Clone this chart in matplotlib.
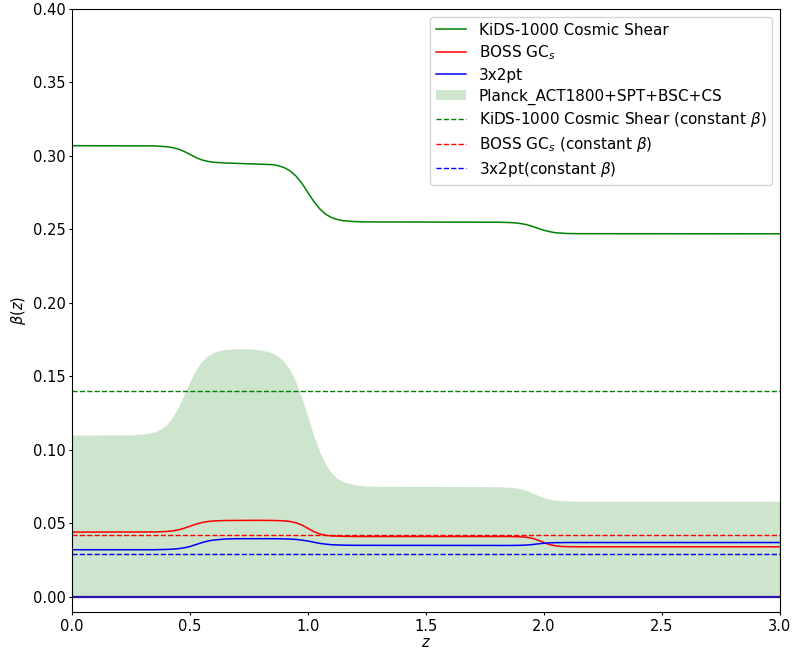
import matplotlib
matplotlib.use("Agg")
import matplotlib.pyplot as plt

# KiDS-1000 cosmic shear beta(z)
z_kids = [0.0, 0.35, 0.4, 0.425, 0.45, 0.475, 0.5, 0.525, 0.55, 0.575, 0.6, 0.65,
          0.85, 0.875, 0.9, 0.925, 0.95, 0.975, 1.0, 1.025, 1.05, 1.075, 1.1, 1.125,
          1.15, 1.2, 1.25, 1.8, 1.85, 1.875, 1.9, 1.925, 1.95, 1.975, 2.0, 2.025,
          2.05, 2.1, 2.15, 3.0]
beta_kids = [0.307, 0.3068, 0.3063, 0.3057, 0.3047, 0.3031, 0.301, 0.2989, 0.2973,
             0.2963, 0.2957, 0.2952, 0.2941, 0.2933, 0.2920, 0.2897, 0.2861, 0.2811,
             0.275, 0.2689, 0.2639, 0.2603, 0.2580, 0.2567, 0.2559, 0.2553, 0.2551,
             0.2549, 0.2547, 0.2545, 0.2540, 0.2533, 0.2521, 0.2507, 0.2494, 0.2484,
             0.2477, 0.2472, 0.2471, 0.247]

# BOSS GC_s beta(z)
z_boss = [0.0, 0.35, 0.4, 0.425, 0.45, 0.475, 0.5, 0.525, 0.55, 0.575, 0.6, 0.65,
          0.8, 0.85, 0.875, 0.9, 0.925, 0.95, 0.975, 1.0, 1.025, 1.05, 1.075, 1.1,
          1.15, 1.2, 1.85, 1.9, 1.925, 1.95, 1.975, 2.0, 2.025, 2.05, 2.075, 2.1,
          2.15, 3.0]
beta_boss = [0.044, 0.0441, 0.0444, 0.0448, 0.0455, 0.0466, 0.048, 0.0494, 0.0505,
             0.0512, 0.0516, 0.0519, 0.052, 0.0519, 0.0518, 0.0516, 0.0512, 0.0503,
             0.0487, 0.0465, 0.0443, 0.0427, 0.0418, 0.0414, 0.0411, 0.0410, 0.0410,
             0.0408, 0.0405, 0.0398, 0.0385, 0.0368, 0.0354, 0.0346, 0.0342, 0.0341,
             0.0340, 0.0340]

# 3x2pt beta(z)
z_3x2 = [0.0, 0.35, 0.4, 0.425, 0.45, 0.475, 0.5, 0.525, 0.55, 0.575, 0.6, 0.65,
         0.7, 0.85, 0.9, 0.925, 0.95, 0.975, 1.0, 1.025, 1.05, 1.075, 1.1, 1.15,
         1.2, 1.85, 1.9, 1.925, 1.95, 1.975, 2.0, 2.025, 2.05, 2.1, 3.0]
beta_3x2 = [0.032, 0.0320, 0.0322, 0.0324, 0.0327, 0.0333, 0.0342, 0.0355, 0.0368,
            0.0379, 0.0386, 0.0393, 0.0395, 0.0395, 0.0394, 0.0392, 0.0390, 0.0385,
            0.0379, 0.0371, 0.0363, 0.0358, 0.0354, 0.0351, 0.0350, 0.0349, 0.0350,
            0.0352, 0.0355, 0.0360, 0.0364, 0.0367, 0.0368, 0.0369, 0.0369]

# Planck_ACT1800+SPT+BSC+CS upper bound
z_planck = [0.0, 0.25, 0.3, 0.325, 0.35, 0.375, 0.4, 0.425, 0.45, 0.475, 0.5, 0.525,
            0.55, 0.575, 0.6, 0.625, 0.65, 0.7, 0.75, 0.8, 0.825, 0.85, 0.875, 0.9,
            0.925, 0.95, 0.975, 1.0, 1.025, 1.05, 1.075, 1.1, 1.125, 1.15, 1.2, 1.25,
            1.3, 1.8, 1.85, 1.875, 1.9, 1.925, 1.95, 1.975, 2.0, 2.025, 2.05, 2.1,
            2.15, 3.0]
beta_planck = [0.110, 0.1102, 0.1107, 0.1112, 0.1122, 0.1140, 0.1170, 0.1219, 0.1289,
               0.1377, 0.1467, 0.1545, 0.1603, 0.1640, 0.1662, 0.1675, 0.1682, 0.1688,
               0.1688, 0.1679, 0.1671, 0.1658, 0.1635, 0.1598, 0.1541, 0.1457, 0.1347,
               0.122, 0.1093, 0.0983, 0.0899, 0.0842, 0.0805, 0.0782, 0.0761, 0.0754,
               0.0752, 0.0749, 0.0746, 0.0742, 0.0735, 0.0723, 0.0707, 0.0689, 0.0674,
               0.0664, 0.0657, 0.0652, 0.0651, 0.065]

# constant-beta fits
beta_kids_const = 0.140
beta_boss_const = 0.042
beta_3x2_const = 0.029

plt.rcParams["font.size"] = 10.5

fig = plt.figure(figsize=(7.95, 6.53), dpi=100)
ax = fig.add_axes([0.0906, 0.0623, 0.8906, 0.9239])

ax.plot(z_kids, beta_kids, color="green", lw=1.1, label="KiDS-1000 Cosmic Shear")
ax.plot(z_boss, beta_boss, color="r", lw=1.1, label=r"BOSS GC$_s$")
ax.plot(z_3x2, beta_3x2, color="b", lw=1.1, label="3x2pt")
ax.axhline(0.0, color="#2c10a8", lw=1.6)
ax.fill_between(z_planck, 0, beta_planck, color="green", alpha=0.2, lw=0,
                label="Planck_ACT1800+SPT+BSC+CS")

ax.axhline(beta_kids_const, color="green", ls="--", lw=1.0,
           label=r"KiDS-1000 Cosmic Shear (constant $\beta$)")
ax.axhline(beta_boss_const, color="r", ls="--", lw=1.0,
           label=r"BOSS GC$_s$ (constant $\beta$)")
ax.axhline(beta_3x2_const, color="b", ls="--", lw=1.0,
           label=r"3x2pt(constant $\beta$)")

ax.set_xlim(0, 3)
ax.set_ylim(-0.0106, 0.40)
ax.tick_params(length=2.5, pad=2.2)
ax.set_xlabel(r"$z$", labelpad=1)
ax.set_ylabel(r"$\beta(z)$", labelpad=3)
ax.legend(loc="upper right", fontsize=11, labelspacing=0.37)

fig.savefig("out.png", dpi=100)
